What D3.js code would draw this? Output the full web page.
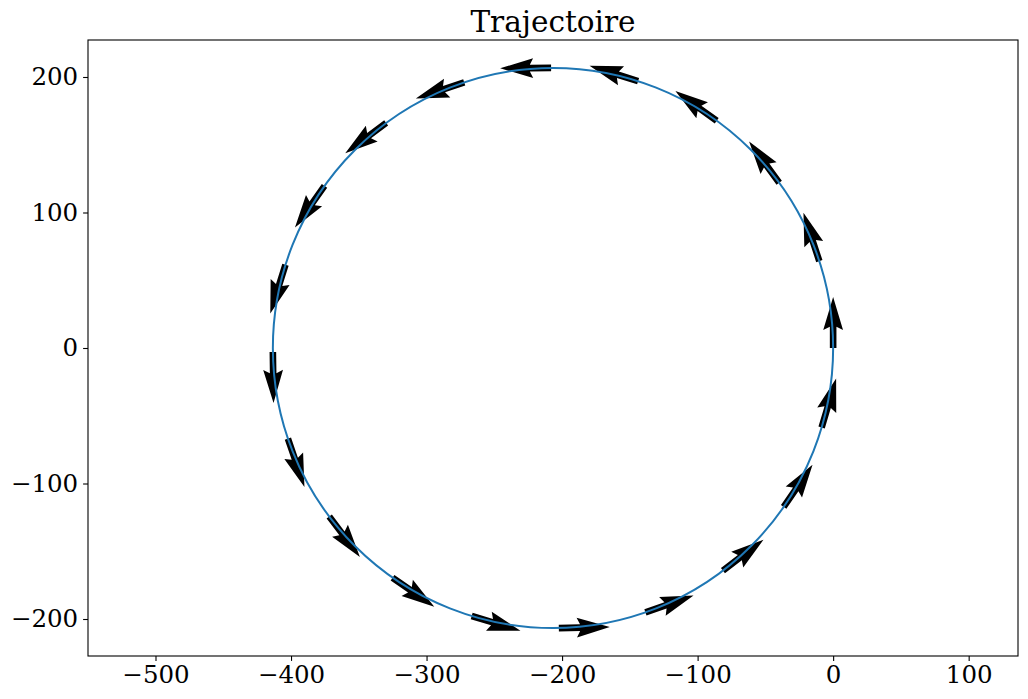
<!DOCTYPE html>
<html>
<head>
<meta charset="utf-8">
<script src="https://cdn.jsdelivr.net/npm/d3@7"></script>
<style>
  body { margin: 0; background: #fff; }
  svg { font-family: 'DejaVu Serif', serif; }
</style>
</head>
<body>
<svg width="1028" height="699"></svg>
<script>
const svg = d3.select('svg');

const titre = 'Trajectoire';
const xTicks = [-500, -400, -300, -200, -100, 0, 100];
const yTicks = [-200, -100, 0, 100, 200];

// trajectory (circle)
const centreX = -206.7;
const centreY = 0;
const rayon = 206.7;

// quiver arrows: tail positions and vectors
const qx = [0, -10.2, -39.8, -85.9, -143.9, -208.1, -272.2, -329.8, -375.3, -404.1,
  -413.4, -402.3, -371.8, -325.1, -266.7, -202.4, -138.5, -81.3, -36.5, -8.5];
const qy = [0, 64.1, 122.0, 167.7, 196.9, 206.7, 196.0, 166.1, 119.6, 61.4,
  -2.9, -66.9, -124.3, -169.5, -197.8, -206.7, -195.1, -164.3, -117.2, -58.7];
const qu = [0, -11.7, -22.2, -30.5, -35.8, -37.6, -35.7, -30.2, -21.8, -11.2,
  0.5, 12.2, 22.6, 30.8, 36.0, 37.6, 35.5, 29.9, 21.3, 10.7];
const qv = [37.6, 35.7, 30.4, 22.0, 11.4, -0.3, -11.9, -22.4, -30.7, -35.9,
  -37.6, -35.6, -30.0, -21.5, -10.9, 0.8, 12.4, 22.8, 31.0, 36.1];

const margin = { top: 40, right: 10, bottom: 43, left: 88 };
const width = 1028, height = 699;
const innerW = width - margin.left - margin.right;
const innerH = height - margin.top - margin.bottom;

const x = d3.scaleLinear().domain([-549.8, 136.4]).range([0, innerW]);
const y = d3.scaleLinear().domain([-227.3, 227.3]).range([innerH, 0]);

const g = svg.append('g').attr('transform', `translate(${margin.left},${margin.top})`);

// arrows (quiver style)
const w = 6.6, hl = 5 * w, hal = 4.5 * w, hw = 1.5 * w;
const arrows = qx.map((d, i) => ({ x: d, y: qy[i], u: qu[i], v: qv[i] }));
g.selectAll('polygon.arrow')
  .data(arrows)
  .enter()
  .append('polygon')
  .attr('class', 'arrow')
  .attr('fill', '#000')
  .attr('transform', (d) => {
    const x0 = x(d.x), y0 = y(d.y);
    const ang = Math.atan2(y(d.y + d.v) - y0, x(d.x + d.u) - x0) * 180 / Math.PI;
    return `translate(${x0},${y0}) rotate(${ang})`;
  })
  .attr('points', (d) => {
    const L = Math.hypot(x(d.x + d.u) - x(d.x), y(d.y + d.v) - y(d.y));
    return [[0, -w / 2], [L - hal, -w / 2], [L - hl, -hw], [L, 0],
      [L - hl, hw], [L - hal, w / 2], [0, w / 2]].join(' ');
  });

// trajectory line on top
g.append('ellipse')
  .attr('cx', x(centreX))
  .attr('cy', y(centreY))
  .attr('rx', x(centreX + rayon) - x(centreX))
  .attr('ry', y(centreY) - y(centreY + rayon))
  .attr('fill', 'none')
  .attr('stroke', '#1f77b4')
  .attr('stroke-width', 2);

// axes
const fmt = d3.format('d');
const xAxis = g.append('g')
  .attr('transform', `translate(0,${innerH})`)
  .call(d3.axisBottom(x).tickValues(xTicks).tickFormat(fmt).tickSize(4.9).tickPadding(4.9).tickSizeOuter(0));
const yAxis = g.append('g')
  .call(d3.axisLeft(y).tickValues(yTicks).tickFormat(fmt).tickSize(4.9).tickPadding(4.9).tickSizeOuter(0));

[xAxis, yAxis].forEach((a) => {
  a.select('.domain').remove();
  a.selectAll('.tick line').attr('stroke', '#000').attr('stroke-width', 1.1);
  a.selectAll('.tick text')
    .attr('fill', '#000')
    .style('font-family', "'DejaVu Serif', serif")
    .style('font-size', '24.5px');
});

g.append('rect')
  .attr('width', innerW)
  .attr('height', innerH)
  .attr('fill', 'none')
  .attr('stroke', '#000')
  .attr('stroke-width', 1.1);

svg.append('text')
  .attr('x', margin.left + innerW / 2)
  .attr('y', margin.top - 8.3)
  .attr('text-anchor', 'middle')
  .style('font-size', '29.5px')
  .attr('fill', '#000')
  .text(titre);
</script>
</body>
</html>
